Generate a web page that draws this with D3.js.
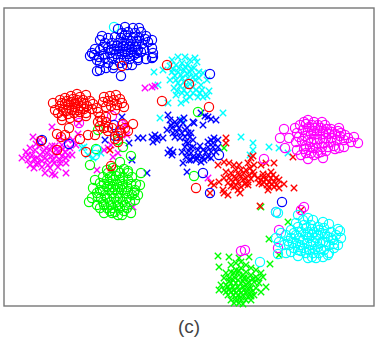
<!DOCTYPE html>
<html>
<head>
<meta charset="utf-8">
<script src="https://cdnjs.cloudflare.com/ajax/libs/d3/7.8.5/d3.min.js"></script>
<style>
  html, body { margin: 0; padding: 0; background: #fff; }
  svg { display: block; }
</style>
</head>
<body>
<svg id="chart"></svg>
<script>
// values, in the coordinates of the frame
const blueCircles = [[118,29],[125,27],[133,28],[139,28],[122,33],[128,32],[135,33],[141,32],[146,36],[102,36],[108,38],[115,37],[121,38],[127,38],[133,38],[139,38],[145,39],[152,40],[100,40],[105,43],[112,43],[118,43],[124,43],[130,44],[136,44],[142,44],[148,42],[108,48],[114,49],[120,48],[126,49],[132,49],[138,50],[144,49],[152,48],[141,52],[95,49],[100,50],[104,54],[110,53],[116,54],[122,54],[128,54],[134,55],[153,53],[152,58],[90,56],[94,55],[99,57],[105,58],[112,58],[118,58],[124,60],[130,59],[138,58],[146,59],[153,57],[100,63],[108,63],[114,65],[120,63],[127,65],[132,65],[138,60],[97,71],[100,70],[106,68],[113,68],[121,76],[125,35],[131,41],[137,41],[117,46],[123,46],[129,47],[135,47],[111,50],[119,51],[125,52],[131,52],[137,53],[103,47],[92,53],[97,60],[42,140],[69,144],[114,125],[115,136],[210,74],[219,155],[203,173],[210,193],[282,202]];
const redCircles = [[53,103],[55,110],[60,100],[65,98],[71,96],[77,94],[86,95],[60,106],[65,104],[71,102],[77,100],[83,100],[90,101],[93,104],[58,113],[63,110],[69,108],[75,107],[81,106],[87,106],[92,109],[97,108],[62,116],[68,114],[74,113],[80,112],[86,113],[98,112],[62,120],[70,118],[78,117],[86,116],[100,117],[67,101],[73,99],[80,97],[62,103],[68,105],[74,104],[78,103],[84,103],[66,111],[72,110],[78,110],[84,109],[104,97],[110,96],[116,95],[103,102],[108,101],[114,100],[120,99],[106,107],[111,106],[117,105],[122,103],[115,110],[124,107],[102,121],[106,117],[98,122],[100,126],[106,122],[108,127],[123,124],[133,124],[125,128],[121,133],[128,131],[69,128],[57,134],[65,135],[61,137],[41,141],[57,150],[80,139],[88,135],[95,135],[104,128],[108,131],[120,130],[118,136],[115,139],[118,142],[112,128],[86,152],[167,65],[189,84],[162,101],[122,66],[209,107],[196,188],[111,166]];
const greenCircles = [[108,173],[120,173],[128,173],[141,173],[95,180],[100,183],[107,180],[113,180],[120,180],[128,180],[140,185],[93,188],[100,190],[107,187],[113,187],[120,187],[127,187],[135,190],[92,198],[98,197],[105,195],[112,193],[118,193],[125,193],[132,195],[138,195],[89,202],[97,205],[103,202],[110,202],[117,202],[123,202],[130,202],[135,200],[100,208],[107,208],[113,208],[120,208],[127,208],[104,213],[112,213],[118,215],[122,215],[131,213],[115,212],[107,170],[113,168],[118,171],[124,169],[128,171],[103,177],[110,177],[116,176],[123,177],[132,177],[104,184],[110,184],[117,184],[123,184],[131,184],[136,184],[97,193],[103,191],[109,190],[115,190],[122,190],[128,191],[134,193],[101,198],[107,198],[114,198],[120,198],[127,198],[104,205],[111,205],[118,205],[125,205],[110,211],[124,211],[98,130],[123,147],[118,140],[131,156],[120,162],[96,149],[90,165],[198,112],[194,176]];
const cyanCircles = [[296,223],[303,220],[308,218],[313,220],[323,222],[329,224],[338,229],[340,231],[341,238],[338,245],[334,248],[329,253],[323,257],[316,258],[308,258],[298,256],[286,253],[278,254],[276,238],[279,242],[281,233],[286,235],[291,230],[298,227],[304,225],[311,225],[318,227],[324,228],[331,232],[336,235],[291,238],[296,235],[301,232],[308,232],[314,232],[321,233],[328,237],[333,240],[284,245],[289,245],[296,243],[303,240],[309,238],[316,238],[323,242],[329,245],[291,252],[298,250],[304,248],[311,245],[318,247],[324,250],[306,253],[313,253],[319,253],[328,255],[312,257],[306,228],[312,229],[319,230],[294,233],[299,238],[306,235],[312,235],[318,235],[325,234],[331,238],[288,241],[293,243],[300,245],[307,243],[313,242],[320,243],[326,242],[334,244],[294,248],[301,251],[309,250],[315,249],[321,249],[298,215],[276,212],[278,213],[260,262],[114,27],[95,155],[97,150]];
const magentaCircles = [[284,129],[280,138],[289,138],[295,128],[297,133],[300,125],[304,122],[308,120],[314,122],[322,122],[303,130],[309,127],[315,128],[321,128],[327,129],[331,129],[339,128],[305,136],[311,134],[317,134],[323,134],[329,134],[335,134],[341,133],[358,143],[354,137],[348,138],[351,142],[344,147],[339,148],[335,149],[331,142],[324,143],[321,152],[323,158],[314,155],[308,159],[306,153],[301,155],[297,150],[296,142],[299,137],[311,142],[317,143],[306,146],[313,148],[337,140],[344,140],[306,124],[312,125],[318,125],[325,125],[308,131],[314,131],[320,131],[326,132],[332,132],[338,131],[302,141],[308,140],[314,139],[320,139],[326,138],[332,138],[340,136],[345,135],[304,149],[310,147],[316,148],[322,147],[328,147],[334,146],[318,153],[326,151],[311,153],[79,123],[112,116],[122,125],[264,159],[285,148],[279,230],[278,248],[304,207],[301,210],[276,212],[245,250],[241,251]];
const blueCrosses = [[138,138],[143,138],[152,137],[155,135],[157,140],[153,142],[158,137],[163,138],[168,115],[170,120],[172,128],[167,130],[173,133],[177,125],[180,120],[183,123],[187,128],[177,132],[182,133],[188,133],[175,137],[180,138],[185,137],[170,150],[173,152],[172,155],[168,153],[185,147],[188,143],[182,152],[187,153],[190,148],[183,163],[189,160],[193,122],[194,123],[203,125],[208,117],[211,119],[216,120],[201,113],[191,133],[193,140],[193,147],[211,140],[214,138],[218,140],[208,147],[213,147],[218,147],[203,150],[206,152],[211,152],[216,152],[198,155],[203,157],[208,157],[196,160],[201,162],[193,157],[191,160],[204,160],[211,158],[175,122],[184,118],[171,125],[179,128],[185,130],[190,137],[186,142],[191,153],[186,157],[198,150],[208,142],[213,143],[205,116],[197,158],[200,146],[105,140],[129,143],[132,160],[147,173],[187,172],[122,117]];
const redCrosses = [[226,138],[226,143],[251,158],[253,156],[274,163],[293,157],[224,162],[229,163],[234,165],[239,165],[218,165],[248,163],[254,165],[261,165],[266,163],[294,188],[260,206],[301,210],[211,183],[214,185],[224,193],[228,195],[223,190],[219,182],[224,178],[231,173],[234,177],[239,175],[244,173],[249,175],[253,172],[233,182],[238,182],[243,180],[248,182],[234,187],[241,187],[248,185],[238,190],[258,178],[263,177],[268,175],[273,175],[259,183],[264,182],[269,182],[274,182],[279,180],[284,184],[269,187],[274,187],[279,188],[268,190],[263,174],[271,172],[254,175],[226,172],[236,170],[241,170],[246,170],[250,168],[229,178],[236,178],[241,176],[246,178],[251,179],[228,183],[231,186],[245,184],[236,185],[240,193],[261,180],[266,179],[271,178],[276,178],[262,184],[267,185],[272,184],[277,185],[210,193],[110,150],[111,168]];
const greenCrosses = [[218,256],[219,267],[229,257],[239,258],[249,257],[270,264],[269,239],[288,222],[279,255],[261,207],[224,148],[231,265],[236,263],[241,262],[246,265],[251,268],[256,270],[261,273],[226,273],[231,272],[236,270],[241,268],[246,272],[251,275],[256,277],[263,277],[224,278],[229,278],[234,277],[239,275],[244,278],[249,282],[254,282],[259,283],[266,287],[221,285],[226,285],[231,283],[236,283],[241,283],[246,285],[251,288],[256,288],[261,292],[219,290],[224,290],[229,290],[234,290],[239,290],[244,290],[249,293],[254,295],[228,295],[233,295],[238,295],[243,295],[248,297],[231,300],[236,301],[241,300],[246,300],[251,300],[234,303],[243,304],[239,303],[234,273],[239,271],[243,275],[248,278],[253,279],[258,279],[229,281],[233,280],[238,280],[243,281],[248,283],[228,287],[233,287],[238,287],[243,287],[248,289],[253,291],[226,292],[231,292],[236,293],[241,293],[246,293],[251,296],[236,298],[241,297]];
const cyanCrosses = [[154,72],[163,70],[158,85],[160,118],[168,103],[172,60],[178,57],[185,57],[190,60],[195,58],[197,62],[170,66],[176,65],[182,63],[188,65],[194,68],[199,72],[172,72],[178,72],[184,70],[190,72],[196,75],[203,73],[207,80],[170,80],[176,80],[182,78],[188,78],[195,80],[201,85],[174,88],[180,86],[186,85],[196,90],[202,90],[209,91],[176,95],[182,93],[190,97],[198,97],[203,97],[207,96],[173,69],[179,68],[185,67],[191,69],[175,76],[181,75],[187,74],[193,77],[199,78],[178,83],[184,82],[190,84],[193,87],[177,91],[184,90],[187,94],[193,93],[200,93],[223,113],[181,103],[186,100],[241,137],[269,147],[253,143],[253,150],[250,155],[279,148],[288,153],[182,120],[82,148],[84,147],[88,155],[93,158],[101,153]];
const magentaCrosses = [[52,127],[33,137],[78,134],[79,123],[22,158],[26,152],[28,160],[30,148],[32,155],[35,150],[37,158],[30,165],[34,168],[38,163],[40,146],[43,152],[45,158],[42,167],[45,173],[52,174],[55,175],[66,173],[50,150],[52,156],[55,146],[58,152],[60,160],[62,145],[65,152],[70,148],[48,165],[54,163],[58,167],[66,163],[72,155],[76,145],[40,140],[36,144],[46,148],[52,146],[57,149],[63,149],[68,155],[28,155],[34,159],[40,155],[47,153],[53,160],[56,156],[62,156],[66,158],[36,164],[42,161],[47,160],[50,168],[60,163],[60,138],[68,140],[73,140],[145,88],[152,87],[155,86],[133,207],[97,170],[108,148],[118,153],[111,145],[127,135],[125,125],[208,178],[120,138],[104,150],[113,157]];
const caption = '(c)';

const width = 382;
const height = 339;
const margin = { top: 8, right: 8, bottom: 33, left: 4 };
const xDomain = [4, 374];
const yDomain = [8, 306];
const crossSize = 3.2;
const circleRadius = 4.6;

const svg = d3.select('#chart')
  .attr('width', width)
  .attr('height', height);

const x = d3.scaleLinear().domain(xDomain).range([margin.left, width - margin.right]);
const y = d3.scaleLinear().domain(yDomain).range([margin.top, height - margin.bottom]);

svg.append('rect')
  .attr('x', x(xDomain[0]))
  .attr('y', y(yDomain[0]))
  .attr('width', x(xDomain[1]) - x(xDomain[0]))
  .attr('height', y(yDomain[1]) - y(yDomain[0]))
  .attr('fill', '#fff')
  .attr('stroke', '#777')
  .attr('stroke-width', 1.4);

const crossSeries = [
  [cyanCrosses, '#00ffff'],
  [magentaCrosses, '#ff00ff'],
  [blueCrosses, '#0000ff'],
  [greenCrosses, '#00ff00'],
  [redCrosses, '#ff0000']
];
const circleSeries = [
  [greenCircles, '#00ff00'],
  [magentaCircles, '#ff00ff'],
  [cyanCircles, '#00ffff'],
  [blueCircles, '#0000ff'],
  [redCircles, '#ff0000']
];

crossSeries.forEach(([points, color]) => {
  svg.append('g')
    .selectAll('path')
    .data(points)
    .enter()
    .append('path')
    .attr('d', d => {
      const cx = x(d[0]), cy = y(d[1]), s = crossSize;
      return `M${cx - s},${cy - s}L${cx + s},${cy + s}M${cx - s},${cy + s}L${cx + s},${cy - s}`;
    })
    .attr('fill', 'none')
    .attr('stroke', color)
    .attr('stroke-width', 1.4);
});

circleSeries.forEach(([points, color]) => {
  svg.append('g')
    .selectAll('circle')
    .data(points)
    .enter()
    .append('circle')
    .attr('cx', d => x(d[0]))
    .attr('cy', d => y(d[1]))
    .attr('r', circleRadius)
    .attr('fill', 'none')
    .attr('stroke', color)
    .attr('stroke-width', 1.2);
});

svg.append('text')
  .attr('x', 189)
  .attr('y', 333)
  .attr('text-anchor', 'middle')
  .attr('font-family', '"Liberation Sans", sans-serif')
  .attr('font-size', 19)
  .attr('fill', '#444')
  .text(caption);
</script>
</body>
</html>
